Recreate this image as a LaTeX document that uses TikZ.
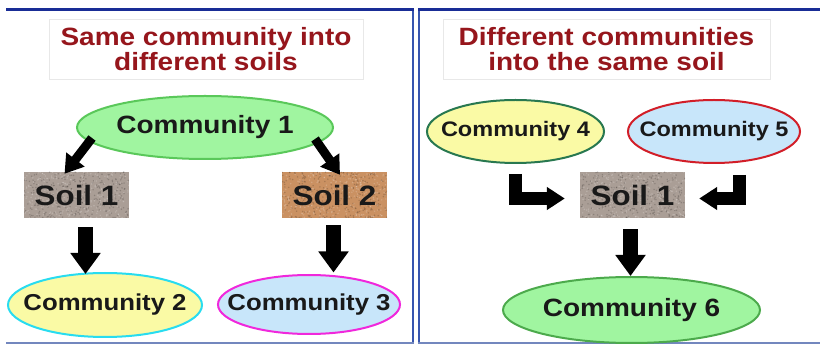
\documentclass[tikz,border=0pt]{standalone}
\usepackage{fontspec}
\newfontfamily\af[FakeStretch=1.12]{Liberation Sans}
\usetikzlibrary{shapes.geometric,arrows.meta,calc}
\definecolor{ttlred}{RGB}{150,22,28}
\definecolor{grfill}{RGB}{160,245,160}
\definecolor{grline}{RGB}{90,200,90}
\definecolor{yefill}{RGB}{250,250,165}
\definecolor{blfill}{RGB}{200,230,250}
\definecolor{cyline}{RGB}{40,220,240}
\definecolor{mgline}{RGB}{240,40,220}
\definecolor{dgline}{RGB}{40,120,80}
\definecolor{rdline}{RGB}{210,30,40}
\definecolor{soilA}{RGB}{170,158,150}
\definecolor{soilB}{RGB}{202,145,98}
\definecolor{frtop}{RGB}{25,45,150}
\definecolor{frside}{RGB}{55,85,175}
\definecolor{frbot}{RGB}{115,135,190}
\definecolor{boxline}{RGB}{232,232,232}
\begin{document}
\begin{tikzpicture}[x=1pt,y=-1pt,
  ttlbox/.style={draw=boxline,line width=0.8pt,fill=white,inner sep=0pt,
    minimum width=#1,minimum height=60pt,align=center,text=ttlred,
    font=\af\bfseries\fontsize{25}{25}\selectfont},
  comm/.style={ellipse,line width=2pt,inner sep=0pt,text=black!90},
  soilbox/.style={rectangle,inner sep=0pt,minimum width=105pt,minimum height=46pt,
    font=\af\bfseries\fontsize{28}{28}\selectfont,text=black!90,
    path picture={\foreach \i in {1,...,300}{
      \fill[black,opacity=0.18] ($(path picture bounding box.south west)+(rnd*105,-rnd*46)$) circle (0.8pt);
      \fill[white,opacity=0.2] ($(path picture bounding box.south west)+(rnd*105,-rnd*46)$) circle (0.8pt);}}},
  downarr/.style={line width=15pt,-{Triangle[length=21pt,width=29pt]}},
  diagarr/.style={line width=9pt,-{Triangle[length=18pt,width=22pt]}},
  elbarr/.style={line width=13pt,line join=miter,-{Triangle[length=18pt,width=22pt]}}
]
\pgfmathsetseed{7}
\useasboundingbox (0,0) rectangle (820,347);
% frames
\draw[frside,line width=2.5pt] (413,10) -- (413,343);
\draw[frside,line width=2.5pt] (419,10) -- (419,343);
\draw[frtop,line width=3pt] (6,10) -- (414.2,10);
\draw[frtop,line width=3pt] (417.8,10) -- (820,10);
\draw[frbot,line width=2pt] (6,343) -- (414.2,343);
\draw[frbot,line width=2pt] (417.8,343) -- (820,343);
% titles
\node[ttlbox=314pt] (t1) at (206,49) {Same community into\\different soils};
\node[ttlbox=327pt] (t2) at (606.5,49.5) {Different communities\\into the same soil};
% left panel
\node[comm,fill=grfill,draw=grline,minimum width=256pt,minimum height=63pt,
  font=\af\bfseries\fontsize{25}{25}\selectfont] (c1) at (205,127.5) {\makebox[0pt]{Community 1}};
\node[soilbox,fill=soilA] (s1) at (76.5,195) {Soil 1};
\node[soilbox,fill=soilB] (s2) at (334.5,195) {Soil 2};
\node[comm,fill=yefill,draw=cyline,minimum width=194pt,minimum height=64pt,
  font=\af\bfseries\fontsize{23}{23}\selectfont] (c2) at (105,305) {\makebox[0pt]{Community 2}};
\node[comm,fill=blfill,draw=mgline,minimum width=182pt,minimum height=59pt,
  font=\af\bfseries\fontsize{23}{23}\selectfont] (c3) at (309,304.5) {\makebox[0pt]{Community 3}};
\draw[diagarr] ($(c1.center)+(-113,10.5)$) -- ($(s1.north)+(-12,2)$);
\draw[diagarr] ($(c1.center)+(110,11.5)$) -- ($(s2.north)+(5.5,3)$);
\draw[downarr] ($(s1.south)+(9,9)$) -- ($(c2.north)+(-19.5,2)$);
\draw[downarr] ($(s2.south)+(-1,7)$) -- ($(c3.north)+(24.5,-1.5)$);
% right panel
\node[comm,fill=yefill,draw=dgline,minimum width=177pt,minimum height=63pt,
  font=\af\bfseries\fontsize{21}{21}\selectfont] (c4) at (515.5,131.5) {\makebox[0pt]{Community 4}};
\node[comm,fill=blfill,draw=rdline,minimum width=172pt,minimum height=63pt,
  font=\af\bfseries\fontsize{21}{21}\selectfont] (c5) at (714,131.5) {\makebox[0pt]{Community 5}};
\node[soilbox,fill=soilA] (s3) at (632.5,195) {Soil 1};
\node[comm,fill=grfill,draw=grline!85!black,minimum width=257pt,minimum height=66pt,
  font=\af\bfseries\fontsize{25}{25}\selectfont] (c6) at (631.5,310) {\makebox[0pt]{Community 6}};
\draw[elbarr] ($(c4.south)+(0,10)$) |- ($(s3.west)+(-15,3.5)$);
\draw[elbarr] ($(c5.south)+(25.5,11)$) |- ($(s3.east)+(14,3.5)$);
\draw[downarr] ($(s3.south)+(-2,11)$) -- ($(c6.north)+(-1,0)$);
\end{tikzpicture}
\end{document}
